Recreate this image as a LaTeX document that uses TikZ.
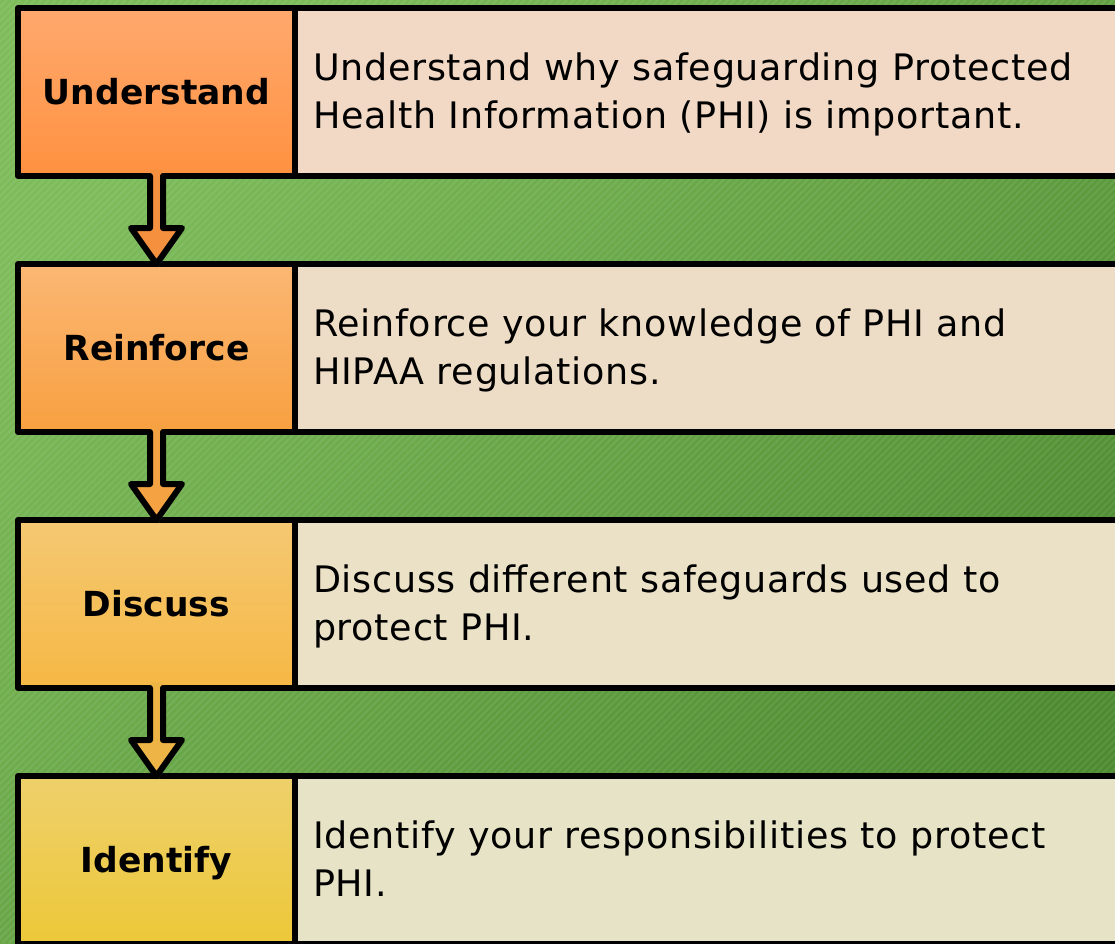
\documentclass[tikz,border=0pt]{standalone}
\usepackage{fontspec}
\setmainfont{DejaVu Sans}
\newfontfamily\bodyfam[LetterSpace=2]{DejaVu Sans}
\usetikzlibrary{calc,shadows}
\definecolor{bgA}{HTML}{7CBB58}
\definecolor{bgB}{HTML}{4C8A2E}
\definecolor{uTop}{HTML}{FFA96E}
\definecolor{uBot}{HTML}{FF9140}
\definecolor{rTop}{HTML}{FBB774}
\definecolor{rBot}{HTML}{F8A040}
\definecolor{dTop}{HTML}{F5C872}
\definecolor{dBot}{HTML}{F6B845}
\definecolor{iTop}{HTML}{EED06C}
\definecolor{iBot}{HTML}{EDC838}
\definecolor{tA}{HTML}{F1D9C5}
\definecolor{tB}{HTML}{EEDDC6}
\definecolor{tC}{HTML}{EAE1C6}
\definecolor{tD}{HTML}{E7E3C6}
\definecolor{aA}{HTML}{F5903F}
\definecolor{aB}{HTML}{F4A242}
\definecolor{aC}{HTML}{EFB446}
\begin{document}
\begin{tikzpicture}[x=1pt,y=-1pt,
  lbox/.style={draw=black, line width=6pt, outer sep=0pt, line join=round,
    minimum width=277pt, minimum height=168pt, inner sep=0pt,
    text height=26pt, text depth=2pt,
    font=\fontsize{34.5}{40}\selectfont\bfseries,
    drop shadow={opacity=0.25, shadow xshift=2pt, shadow yshift=-3pt}},
  rbox/.style={draw=black, line width=6pt, outer sep=0pt, line join=round,
    minimum width=840pt, minimum height=168pt, inner xsep=18pt, inner ysep=0pt,
    text width=804pt, align=left, anchor=west,
    font=\bodyfam\fontsize{36.5}{48}\selectfont,
    drop shadow={opacity=0.25, shadow xshift=2pt, shadow yshift=-3pt}},
  arrowline/.style={draw=black, line width=6pt, line join=round, line cap=round},
  stripe/.style={draw=white, opacity=0.08, line width=2.5pt}
]
\useasboundingbox (0,0) rectangle (1115,943);
\begin{scope}
\clip (0,0) rectangle (1115,943);
\shade[left color=bgA, right color=bgB, shading angle=45] (0,0) rectangle (1115,943);
\foreach \i in {0,7,...,2100} \draw[stripe] (\i,0) -- (\i-943,943);

% left boxes
\node[lbox, top color=uTop, bottom color=uBot] (L1) at (156.5,92) {Understand};
\node[lbox, top color=rTop, bottom color=rBot] (L2) at (156.5,348) {Reinforce};
\node[lbox, top color=dTop, bottom color=dBot] (L3) at (156.5,604) {Discuss};
\node[lbox, top color=iTop, bottom color=iBot] (L4) at (156.5,860) {Identify};

% right boxes
\node[rbox, fill=tA] (R1) at (L1.east) {\rule{0pt}{33pt}Understand why safeguarding Protected\\Health Information (PHI) is important.\rule[-9pt]{0pt}{9pt}};
\node[rbox, fill=tB] (R2) at (L2.east) {\rule{0pt}{33pt}Reinforce your knowledge of PHI and\\HIPAA regulations.\rule[-9pt]{0pt}{9pt}};
\node[rbox, fill=tC] (R3) at (L3.east) {\rule{0pt}{33pt}Discuss different safeguards used to\\protect PHI.\rule[-9pt]{0pt}{9pt}};
\node[rbox, fill=tD] (R4) at (L4.east) {\rule{0pt}{33pt}Identify your responsibilities to protect\\PHI.\rule[-9pt]{0pt}{9pt}};

% redraw left boxes' right border over right boxes
\foreach \n in {L1,L2,L3,L4}
  \draw[black, line width=6pt, line cap=round] (\n.north east) -- (\n.south east);

% arrows
\foreach \a/\b/\c in {L1/L2/aA, L2/L3/aB, L3/L4/aC}{
  \fill[\c, drop shadow={opacity=0.25, shadow xshift=2pt, shadow yshift=-3pt}]
    ($(\a.south)+(-6.5,-6)$) |- ($(\b.north)+(-25.5,-36)$) -- (\b.north)
    -- ($(\b.north)+(25.5,-36)$) -| ($(\a.south)+(6.5,-6)$) -- cycle;
  \draw[arrowline] ($(\a.south)+(-6.5,0)$) |- ($(\b.north)+(-25.5,-36)$)
    -- (\b.north) -- ($(\b.north)+(25.5,-36)$) -| ($(\a.south)+(6.5,0)$);
}
\end{scope}
\end{tikzpicture}
\end{document}
